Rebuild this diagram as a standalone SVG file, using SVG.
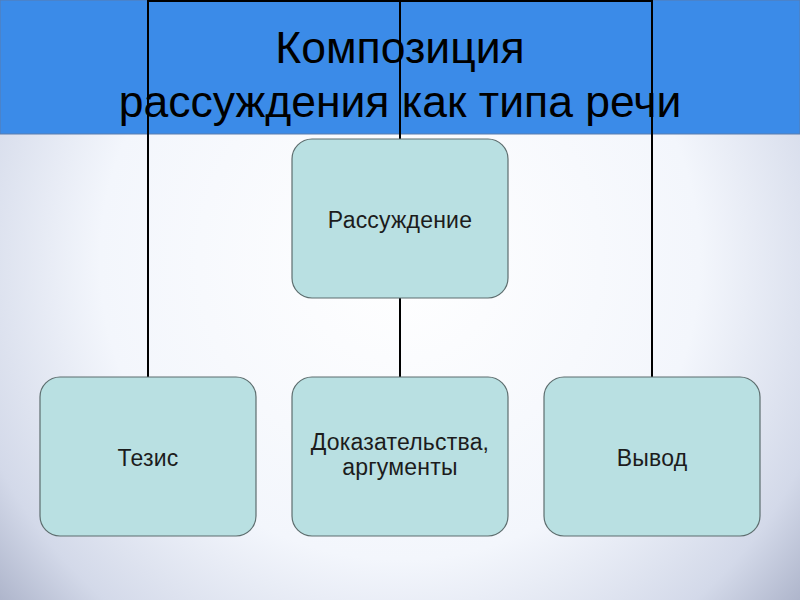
<svg xmlns="http://www.w3.org/2000/svg" width="800" height="600" viewBox="0 0 800 600">
  <defs>
    <radialGradient id="bg" cx="400" cy="260" r="600" gradientUnits="userSpaceOnUse">
      <stop offset="0" stop-color="#ffffff"/>
      <stop offset="0.5" stop-color="#f3f6fc"/>
      <stop offset="0.75" stop-color="#d3d9e9"/>
      <stop offset="1" stop-color="#8a92ae"/>
    </radialGradient>
  </defs>
  <style>
    .node rect { fill: #b9e0e2; stroke: #5d6d6e; stroke-width: 1.2; }
    .node text { font-family: "Liberation Sans", Arial, sans-serif; font-size: 23px; letter-spacing: 0.2px; fill: #1c1c1c; text-anchor: middle; }
    .title { font-family: "Liberation Sans", Arial, sans-serif; font-size: 44.5px; fill: #000000; text-anchor: middle; }
    .conn line { stroke: #000000; stroke-width: 2; }
  </style>
  <rect x="0" y="0" width="800" height="600" fill="url(#bg)"/>
  <g id="title-band">
    <rect x="0" y="0" width="800" height="134" fill="#3b8be8" stroke="#5a7cae" stroke-width="1"/>
    <text class="title" x="400" y="63">Композиция</text>
    <text class="title" x="400" y="117">рассуждения как типа речи</text>
  </g>
  <g id="connectors" class="conn">
    <line x1="148" y1="1" x2="652" y2="1"/>
    <line x1="148" y1="0" x2="148" y2="377"/>
    <line x1="652" y1="0" x2="652" y2="377"/>
    <line x1="400" y1="0" x2="400" y2="139"/>
    <line x1="400" y1="298" x2="400" y2="377"/>
  </g>
  <g id="node-rassuzhdenie" class="node">
    <rect x="292" y="139" width="216" height="159" rx="20" ry="20"/>
    <text x="400" y="228">Рассуждение</text>
  </g>
  <g id="node-tezis" class="node">
    <rect x="40" y="377" width="216" height="159" rx="20" ry="20"/>
    <text x="148" y="466">Тезис</text>
  </g>
  <g id="node-dokazatelstva" class="node">
    <rect x="292" y="377" width="216" height="159" rx="20" ry="20"/>
    <text x="400" y="450">Доказательства,</text>
    <text x="400" y="475">аргументы</text>
  </g>
  <g id="node-vyvod" class="node">
    <rect x="544" y="377" width="216" height="159" rx="20" ry="20"/>
    <text x="652" y="466">Вывод</text>
  </g>
</svg>
